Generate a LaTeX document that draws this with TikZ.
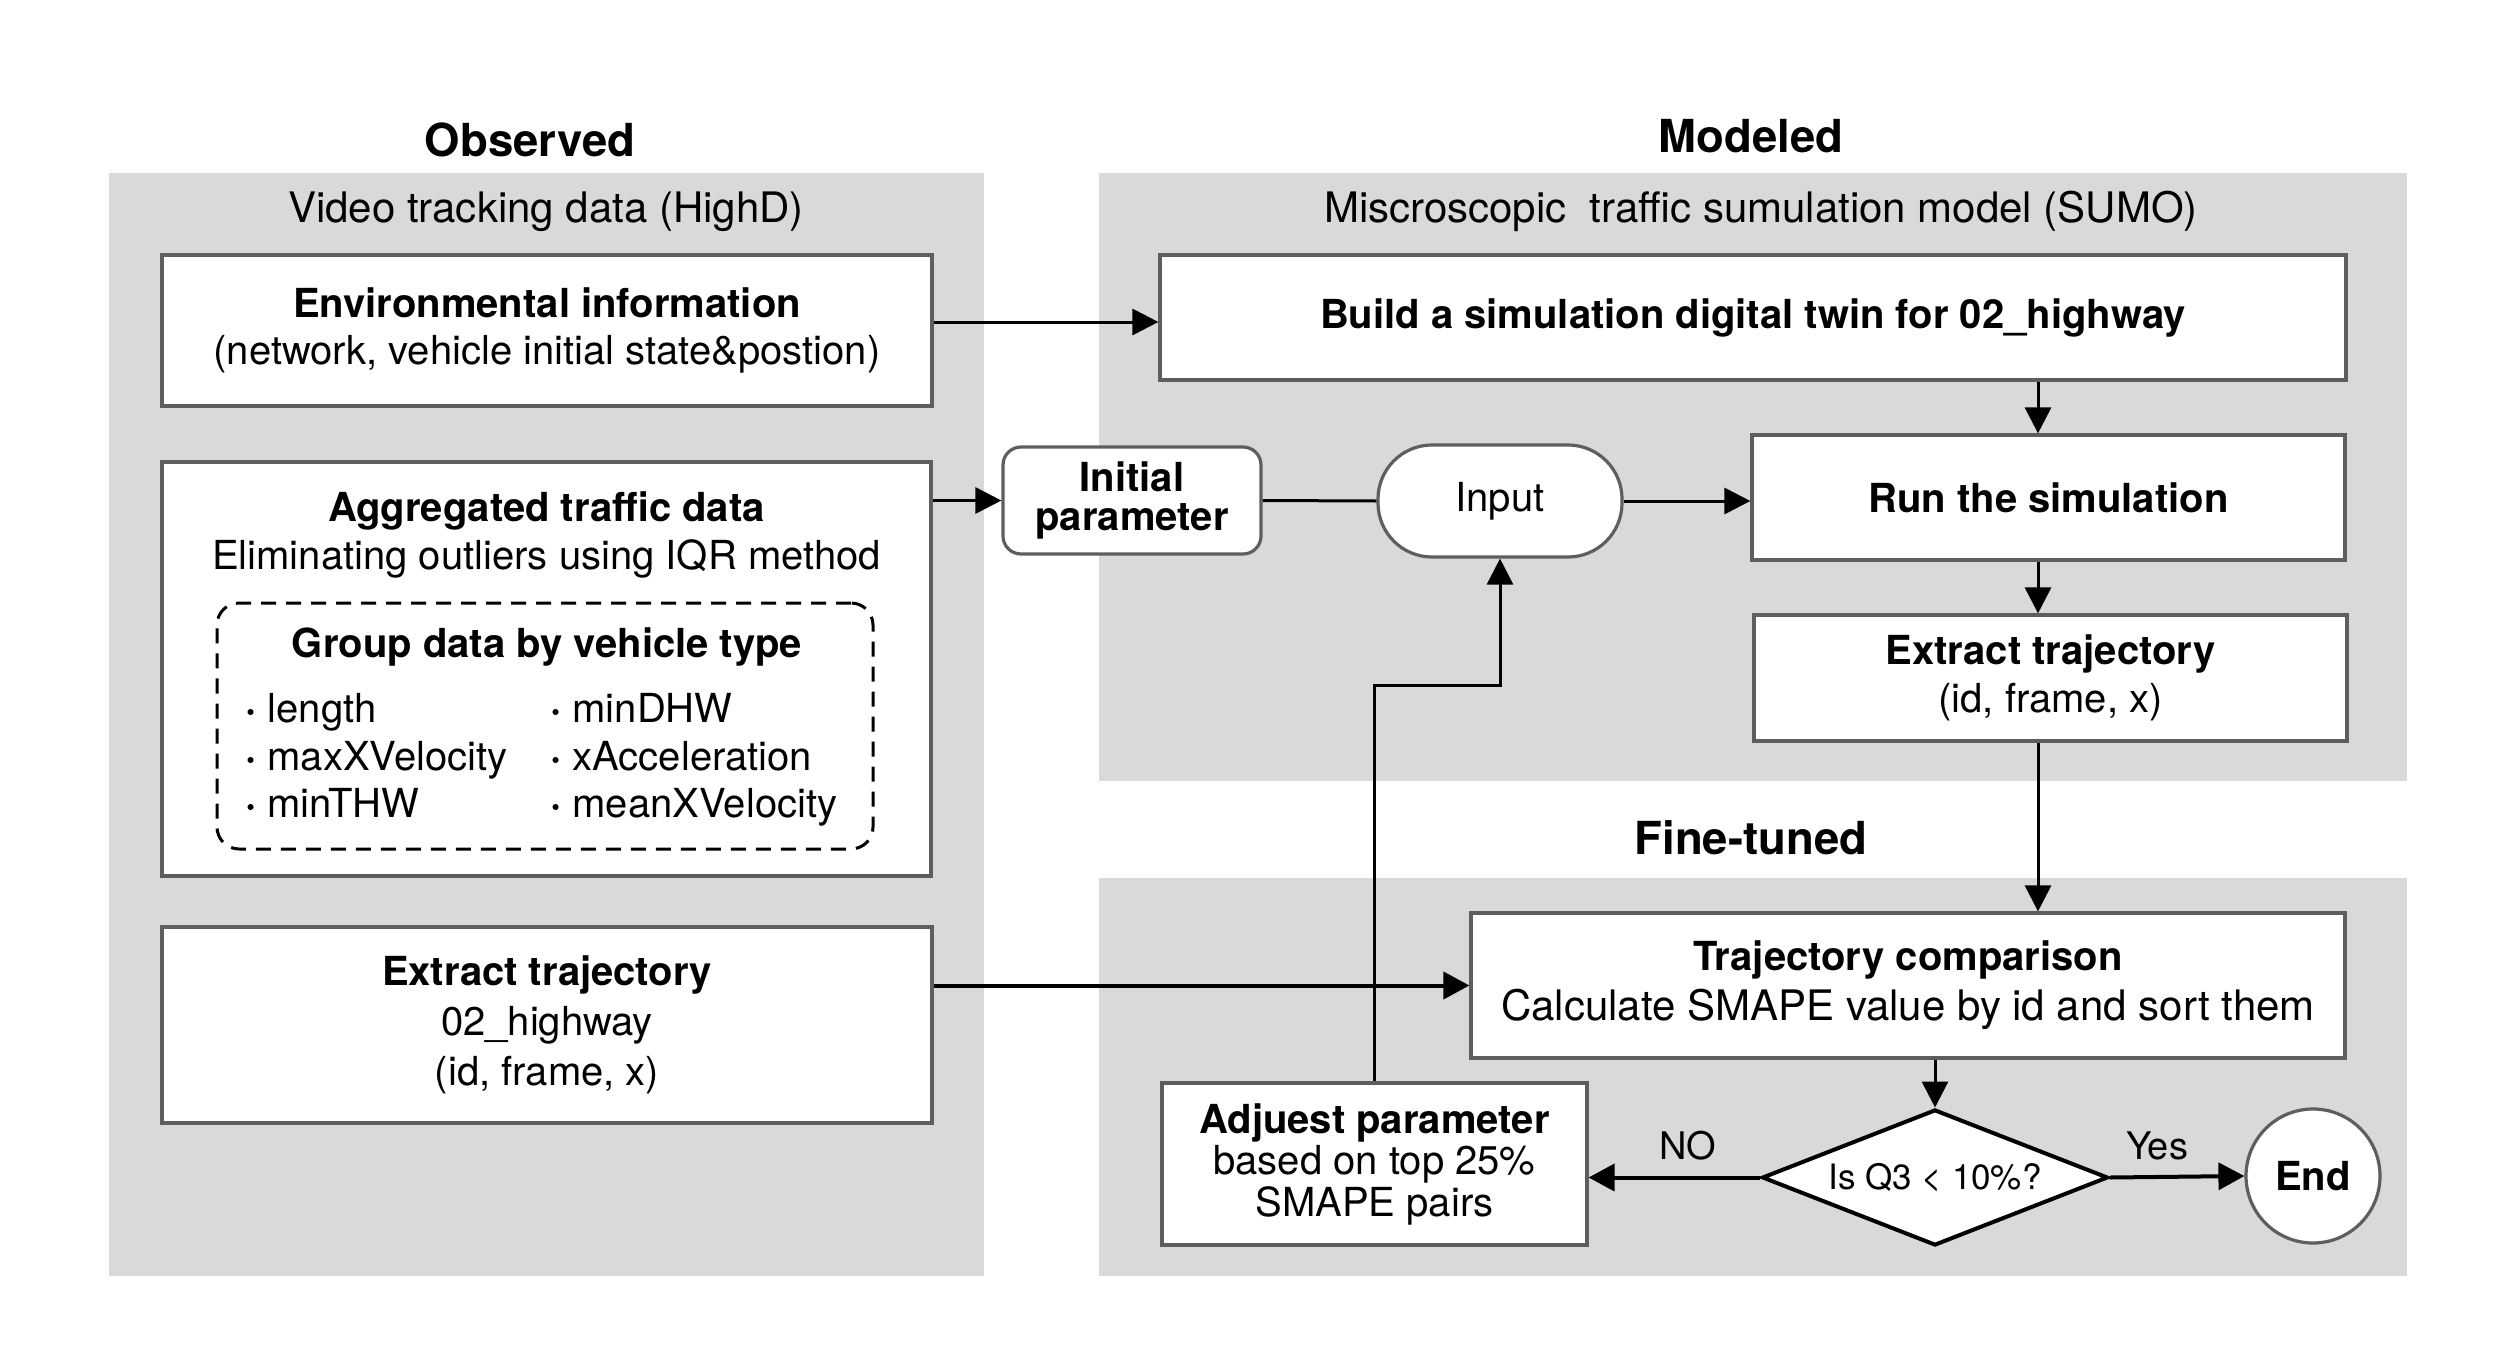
\documentclass[tikz,border=0pt]{standalone}
\usepackage{fontspec}
\setmainfont{TeX Gyre Heros}
\usetikzlibrary{arrows.meta,shapes.geometric,calc}
\definecolor{panel}{HTML}{D9D9D9}
\definecolor{bord}{HTML}{5E5E5E}
\newcommand\fsz[1]{\fontsize{20}{#1}\selectfont}
\newcommand\bdot{\textbf{·}}
\begin{document}
\begin{tikzpicture}[x=0.5pt,y=-0.5pt,
  box/.style={draw=bord, line width=1.6pt, fill=white, inner sep=0pt, align=center},
  arr/.style={line width=1.5pt, -{Triangle[width=13pt,length=13pt]}},
  plain/.style={line width=1.5pt},
  thick arr/.style={line width=2pt, -{Triangle[width=13.5pt,length=13pt]}},
  itemtxt/.style={anchor=base west, inner sep=0pt, font=\fsz{24}},
  ttl/.style={font={\fontsize{22.75}{27}\selectfont\bfseries}},
  sub/.style={font={\fontsize{21}{24}\selectfont}}]
\useasboundingbox (0,0) rectangle (2516,1370);
% panels
\fill[panel] (109,173) rectangle (984,1276);
\fill[panel] (1099,173) rectangle (2407,781);
\fill[panel] (1099,878) rectangle (2407,1276);
% titles
\node[ttl] (tobs) at (530,140) {Observed};
\node[ttl] (tmod) at (1751,136) {Modeled};
\node[ttl] (tfine) at (1751,838) {Fine-tuned};
\node[sub] (sobs) at (546,212) {Video tracking data (HighD)};
\node[sub] (smod) at (1761,211) {Miscroscopic\ \ traffic sumulation model (SUMO)};
% left column
\node[box, minimum width=385pt, minimum height=75.5pt, font=\fsz{23.5}] (env) at (547,330.5)
  {\textbf{Environmental information}\\(network, vehicle initial state\&postion)};
\node[box, minimum width=384.5pt, minimum height=207pt] (agg) at (546.5,669) {};
\node[align=center, font=\fsz{24}] (aggtxt) at (546.5,535)
  {\textbf{Aggregated traffic data}\\Eliminating outliers using IQR method};
\node[draw=black, line width=1.5pt, dash pattern=on 7.5pt off 5pt, rounded corners=11pt,
  minimum width=328pt, minimum height=123pt, inner sep=0pt] (grp) at (545,726) {};
\node[font={\fsz{24}\bfseries}] (grpt) at (547,647) {Group data by vehicle type};
\node[itemtxt] (i1) at (245,722) {\bdot{} length};
\node[itemtxt] (i2) at (245,770) {\bdot{} maxXVelocity};
\node[itemtxt] (i3) at (245,817) {\bdot{} minTHW};
\node[itemtxt] (i4) at (550,722) {\bdot{} minDHW};
\node[itemtxt] (i5) at (550,770) {\bdot{} xAcceleration};
\node[itemtxt] (i6) at (550,817) {\bdot{} meanXVelocity};
\node[box, minimum width=385pt, minimum height=98pt, font=\fsz{25}] (extL) at (547,1025)
  {\textbf{Extract trajectory}\\02\_highway\\(id, frame, x)};
% modeled
\node[box, minimum width=593pt, minimum height=62.5pt, font={\fsz{24}\bfseries}] (build) at (1753,317.5)
  {Build a simulation digital twin for 02\_highway};
\node[box, minimum width=296.5pt, minimum height=62.5pt, font={\fsz{24}\bfseries}] (run) at (2048.5,497.5)
  {Run the simulation};
\node[box, minimum width=296.5pt, minimum height=63pt, font=\fsz{24}] (extR) at (2050.5,678)
  {\textbf{Extract trajectory}\\(id, frame, x)};
\node[box, rounded corners=9pt, minimum width=129pt, minimum height=53.5pt, font={\fsz{19.5}\bfseries}] (init) at (1132,500.5)
  {Initial\\parameter};
\node[box, rounded corners=27pt, minimum width=122pt, minimum height=56pt, font=\fsz{24}] (input) at (1500,501) {Input};
% fine-tuned
\node[box, minimum width=437pt, minimum height=72.5pt, font=\fsz{25}] (comp) at (1908,985.5)
  {\textbf{Trajectory comparison}\\{\fontsize{21}{25}\selectfont Calculate SMAPE value by id and sort them}};
\node[diamond, draw=black, line width=2pt, fill=white, inner sep=0pt, aspect=2.5,
  minimum width=173pt, minimum height=68pt, font={\fontsize{17.5}{21}\selectfont}] (dia) at (1935,1177.5)
  {Is Q3 < 10\%?};
\node[circle, draw=bord, line width=1.6pt, fill=white, minimum size=67pt, inner sep=0pt,
  font={\fsz{24}\bfseries}] (end) at (2313,1176) {End};
\node[box, minimum width=212.5pt, minimum height=81pt, font=\fsz{20.75}] (adj) at (1374.5,1164)
  {\textbf{Adjuest parameter}\\based on top 25\%\\SMAPE pairs};
\node[font={\fontsize{19}{22}\selectfont}] (no) at (1688,1146) {NO};
\node[font={\fontsize{19}{22}\selectfont}] (yes) at (2157,1146) {Yes};
% coordinates
\coordinate (ax) at (2038,0);
\coordinate (ay) at (0,322);
\coordinate (bend) at (1500,685);
% connectors
\draw[arr] (env.east |- ay) -- (build.west |- ay);
\draw[arr] (agg.east |- init.west) -- (init.west);
\draw[plain] (init.east) -- (input.west);
\draw[arr] (input.east) -- (run.west |- input.east);
\draw[arr] (build.south -| ax) -- (run.north -| ax);
\draw[arr] (run.south -| ax) -- (extR.north -| ax);
\draw[arr] (extR.south -| ax) -- (comp.north -| ax);
\draw[thick arr] (extL.east |- comp.west) -- (comp.west);
\draw[arr] (comp.south -| dia.north) -- (dia.north);
\draw[thick arr] (dia.west) -- (adj.east |- dia.west);
\draw[thick arr] (dia.east) -- (end.west);
\draw[arr] (adj.north) |- (bend) -- (input.south);
\end{tikzpicture}
\end{document}
